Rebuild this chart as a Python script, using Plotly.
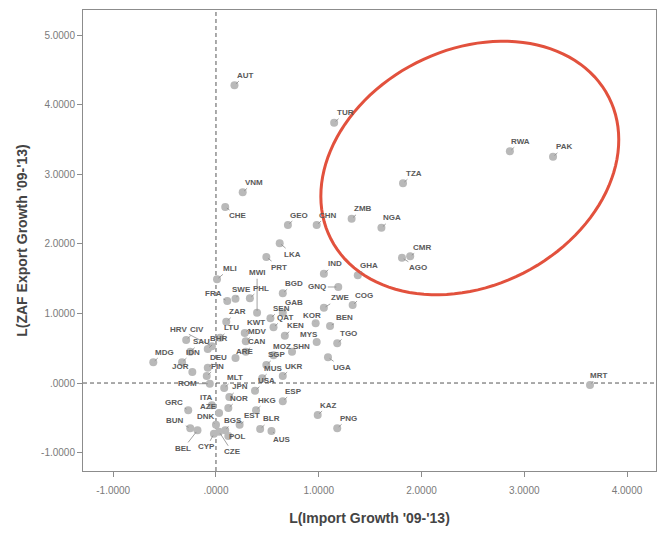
import numpy as np
import plotly.graph_objects as go

# Country codes and log growth values (import growth vs. ZAF export growth, 2009-2013)
countries = [
    "AUT", "TUR", "RWA", "PAK", "TZA", "VNM", "CHE", "GEO", "CHN", "ZMB",
    "NGA", "CMR", "AGO", "IND", "GHA", "LKA", "PRT", "MLI", "MWI", "PHL",
    "FRA", "SWE", "BGD", "GNQ", "ZWE", "COG", "GAB", "SEN", "ZAR", "KOR",
    "BEN", "QAT", "KEN", "MYS", "TGO", "KWT", "MDV", "LTU", "HRV", "CIV",
    "SAU", "BHR", "CAN", "MOZ", "SHN", "ARE", "SGP", "IDN", "MDG", "DEU",
    "FIN", "JOR", "MUS", "UKR", "UGA", "ROM", "MLT", "USA", "JPN", "ITA",
    "NOR", "HKG", "ESP", "GRC", "AZE", "KAZ", "PNG", "BUN", "DNK", "BGS",
    "EST", "BLR", "AUS", "POL", "BEL", "CYP", "CZE", "MRT",
]
import_growth = [
    0.18, 1.15, 2.86, 3.28, 1.82, 0.26, 0.09, 0.70, 0.98, 1.32,
    1.61, 1.89, 1.81, 1.05, 1.38, 0.62, 0.49, 0.01, 0.40, 0.33,
    0.11, 0.19, 0.65, 1.19, 1.05, 1.33, 0.65, 0.53, 0.10, 0.97,
    1.11, 0.56, 0.67, 0.98, 1.18, 0.28, 0.29, 0.04, -0.04, -0.29,
    -0.25, -0.08, 0.29, 0.56, 0.74, 0.19, 0.49, -0.33, -0.61, -0.08,
    -0.09, -0.23, 0.45, 0.65, 1.09, -0.06, 0.08, 0.38, 0.13, -0.04,
    0.12, 0.39, 0.65, -0.27, 0.03, 0.99, 1.18, -0.25, 0.00, 0.09,
    0.23, 0.43, 0.54, 0.12, -0.18, -0.02, 0.03, 3.64,
]
export_growth = [
    4.28, 3.74, 3.33, 3.25, 2.87, 2.74, 2.53, 2.27, 2.27, 2.36,
    2.23, 1.82, 1.80, 1.57, 1.55, 2.01, 1.81, 1.49, 1.01, 1.22,
    1.18, 1.21, 1.29, 1.38, 1.08, 1.12, 1.01, 0.93, 0.88, 0.86,
    0.82, 0.80, 0.68, 0.59, 0.57, 0.72, 0.60, 0.65, 0.53, 0.62,
    0.45, 0.49, 0.45, 0.40, 0.45, 0.36, 0.26, 0.30, 0.30, 0.22,
    0.10, 0.16, 0.07, 0.10, 0.37, -0.01, -0.07, -0.11, -0.20, -0.32,
    -0.36, -0.39, -0.26, -0.39, -0.43, -0.46, -0.65, -0.65, -0.60, -0.68,
    -0.60, -0.66, -0.69, -0.76, -0.68, -0.73, -0.70, -0.03,
]

x_ticks = [-1, 0, 1, 2, 3, 4]
x_tick_text = ["-1.0000", ".0000", "1.0000", "2.0000", "3.0000", "4.0000"]
y_ticks = [-1, 0, 1, 2, 3, 4, 5]
y_tick_text = ["-1.0000", ".0000", "1.0000", "2.0000", "3.0000", "4.0000", "5.0000"]

# Label placement (pixel offset of each label from its marker)
default_offset = (11, -10)
label_offsets = {
    "CHE": (13, 9), "AGO": (16, 10), "CMR": (12, -9), "LKA": (13, 11),
    "PRT": (13, 10), "MLI": (13, -11), "MWI": (0, -40), "FRA": (-14, -7),
    "SWE": (6, -9), "GNQ": (-21, 0), "ZWE": (16, -10), "KOR": (-4, -8),
    "BEN": (14, -8), "MYS": (-8, -7), "HRV": (-33, -17), "ROM": (-22, 0),
    "UGA": (14, 10), "JOR": (-12, -5), "ITA": (-5, -8), "GRC": (-14, -8),
    "AZE": (-11, -6), "BUN": (-15, -8), "DNK": (-10, -8), "BGS": (8, -10),
    "EST": (12, -9), "AUS": (11, 8), "POL": (9, 1), "BEL": (-14, 18),
    "CYP": (-7, 13), "CZE": (13, 20), "MRT": (8, -10),
    "MOZ": (8, -9), "SHN": (9, -5), "ARE": (9, -6),
}

X_RANGE = [-1.294, 4.282]
Y_RANGE = [-1.264, 5.36]
W, H = 664, 537
M = dict(l=83, r=8, t=10, b=66)
px_x = (W - M["l"] - M["r"]) / (X_RANGE[1] - X_RANGE[0])
px_y = (H - M["t"] - M["b"]) / (Y_RANGE[1] - Y_RANGE[0])

fig = go.Figure()

# reference lines at zero
fig.add_shape(type="line", x0=0, x1=0, y0=Y_RANGE[0], y1=Y_RANGE[1],
              line=dict(color="#555555", width=1, dash="4px,3px"), layer="below")
fig.add_shape(type="line", x0=X_RANGE[0], x1=X_RANGE[1], y0=0, y1=0,
              line=dict(color="#555555", width=1, dash="4px,3px"), layer="below")

fig.add_trace(go.Scatter(
    x=import_growth, y=export_growth, mode="markers",
    marker=dict(size=8, color="#b9b9b9", line=dict(width=0)),
    text=countries, hoverinfo="text", showlegend=False,
))

for c, xv, yv in zip(countries, import_growth, export_growth):
    ax, ay = label_offsets.get(c, default_offset)
    fig.add_annotation(
        x=xv, y=yv, text=c, showarrow=True, arrowhead=0, arrowwidth=0.8,
        arrowcolor="#8a8a8a", ax=ax, ay=ay, standoff=2, startstandoff=0,
        font=dict(family="Arial", size=8, color="#5a5a5a", weight="bold"),
    )

# highlighted group (tilted ellipse drawn in screen proportions)
cx, cy = 2.47, 3.09
a_px, b_px, theta = 156, 118, np.deg2rad(27)
t = np.linspace(0, 2 * np.pi, 121)
ex = cx + (a_px * np.cos(theta) * np.cos(t) - b_px * np.sin(theta) * np.sin(t)) / px_x
ey = cy + (a_px * np.sin(theta) * np.cos(t) + b_px * np.cos(theta) * np.sin(t)) / px_y
path = "M " + " L ".join(f"{u:.4f},{v:.4f}" for u, v in zip(ex, ey)) + " Z"
fig.add_shape(type="path", path=path, line=dict(color="#e2513d", width=3))

axis_common = dict(
    showgrid=False, zeroline=False, showline=True, linecolor="#8c8c8c",
    linewidth=1, mirror=True, ticks="outside", ticklen=5, tickcolor="#8c8c8c",
    tickfont=dict(family="Arial", size=10, color="#7a7a7a"),
)
fig.update_xaxes(
    range=X_RANGE, tickvals=x_ticks, ticktext=x_tick_text, ticklabelstandoff=5,
    title=dict(text="L(Import Growth '09-'13)", standoff=18,
               font=dict(family="Arial", size=14, color="#444444", weight="bold")),
    **axis_common,
)
fig.update_yaxes(
    range=Y_RANGE, tickvals=y_ticks, ticktext=y_tick_text,
    title=dict(text="L(ZAF Export Growth '09-'13)", standoff=10,
               font=dict(family="Arial", size=14, color="#444444", weight="bold")),
    **axis_common,
)
fig.update_layout(
    width=W, height=H, margin=M, paper_bgcolor="white", plot_bgcolor="white",
)
fig.write_html("out.html")
